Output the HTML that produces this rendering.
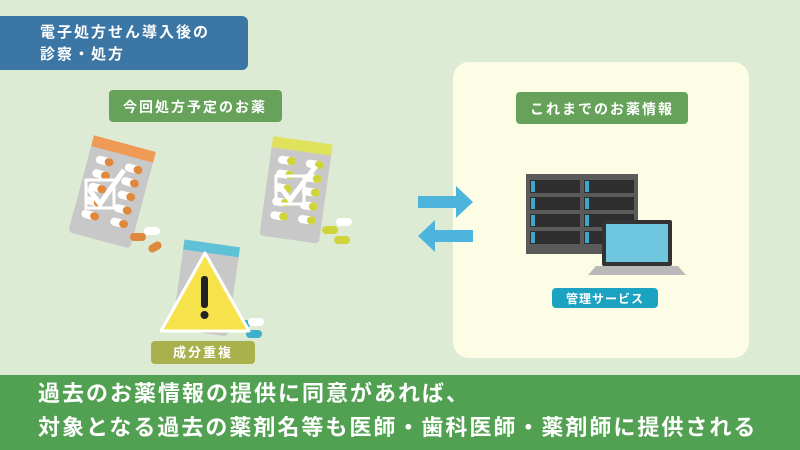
<!DOCTYPE html>
<html><head><meta charset="utf-8"><style>
body{margin:0;width:800px;height:450px;overflow:hidden;background:#ddebd5;font-family:"Liberation Sans","Noto Sans CJK JP",sans-serif}
</style></head><body>
<svg width="800" height="450" viewBox="0 0 800 450" xmlns="http://www.w3.org/2000/svg" style="position:absolute;left:0;top:0">
<rect width="800" height="450" fill="#ddebd5"/>
<rect x="-10" y="16" width="258" height="54" rx="6" fill="#3c76a5"/>
<text x="40" y="37" font-size="15" font-weight="bold" fill="#fff" letter-spacing="2">電子処方せん導入後の</text>
<text x="40" y="59" font-size="15" font-weight="bold" fill="#fff" letter-spacing="2">診察・処方</text>
<rect x="109" y="90" width="173" height="32" rx="4" fill="#66a25a"/>
<text x="195" y="112" font-size="14" font-weight="bold" fill="#fff" text-anchor="middle" letter-spacing="2">今回処方予定のお薬</text>
<rect x="453" y="62" width="296" height="296" rx="16" fill="#fdfde5"/>
<rect x="516" y="92" width="172" height="32" rx="4" fill="#66a25a"/>
<text x="602" y="114" font-size="14" font-weight="bold" fill="#fff" text-anchor="middle" letter-spacing="2">これまでのお薬情報</text>
<polygon points="418,196 456,196 456,186 473,202 456,218 456,208 418,208" fill="#4db5dc"/>
<polygon points="473,230 435,230 435,220 418,236 435,252 435,242 473,242" fill="#4db5dc"/>
<rect x="526" y="174" width="112" height="80" fill="#5a5a5a"/>
<g fill="#2e2e2e">
<rect x="530" y="180" width="50" height="13"/><rect x="584" y="180" width="50" height="13"/>
<rect x="530" y="197" width="50" height="13"/><rect x="584" y="197" width="50" height="13"/>
<rect x="530" y="214" width="50" height="13"/><rect x="584" y="214" width="50" height="13"/>
<rect x="530" y="231" width="50" height="13"/><rect x="584" y="231" width="50" height="13"/>
</g>
<g fill="#3fa8c8">
<rect x="531" y="181" width="4" height="11"/><rect x="585" y="181" width="4" height="11"/>
<rect x="531" y="198" width="4" height="11"/><rect x="585" y="198" width="4" height="11"/>
<rect x="531" y="215" width="4" height="11"/><rect x="585" y="215" width="4" height="11"/>
<rect x="531" y="232" width="4" height="11"/><rect x="585" y="232" width="4" height="11"/>
</g>
<rect x="602" y="220" width="70" height="46" rx="2" fill="#333"/>
<rect x="606" y="224" width="62" height="38" fill="#6ec6e0"/>
<polygon points="596,266 678,266 686,275 588,275" fill="#b9b9b9"/>
<rect x="552" y="288" width="106" height="20" rx="4" fill="#1da3c2"/>
<text x="605" y="303" font-size="12" font-weight="bold" fill="#fff" text-anchor="middle" letter-spacing="1">管理サービス</text>
<g transform="translate(112,192) rotate(15)">
<rect x="-32" y="-50" width="64" height="100" rx="4" fill="#c8c8c8"/>
<rect x="-32" y="-50" width="64" height="11" fill="#ef9a55"/>
<g fill="#fff">
<rect x="-24" y="-32" width="18" height="8" rx="4"/><rect x="6" y="-32" width="18" height="8" rx="4"/>
<rect x="-24" y="-18" width="18" height="8" rx="4"/><rect x="6" y="-18" width="18" height="8" rx="4"/>
<rect x="-24" y="-4" width="18" height="8" rx="4"/><rect x="6" y="-4" width="18" height="8" rx="4"/>
<rect x="-24" y="10" width="18" height="8" rx="4"/><rect x="6" y="10" width="18" height="8" rx="4"/>
<rect x="-24" y="24" width="18" height="8" rx="4"/><rect x="6" y="24" width="18" height="8" rx="4"/>
</g>
<g fill="#e0883e">
<rect x="-15" y="-32" width="9" height="8" rx="4"/><rect x="15" y="-32" width="9" height="8" rx="4"/>
<rect x="-15" y="-18" width="9" height="8" rx="4"/><rect x="15" y="-18" width="9" height="8" rx="4"/>
<rect x="-15" y="-4" width="9" height="8" rx="4"/><rect x="15" y="-4" width="9" height="8" rx="4"/>
<rect x="-15" y="10" width="9" height="8" rx="4"/><rect x="15" y="10" width="9" height="8" rx="4"/>
<rect x="-15" y="24" width="9" height="8" rx="4"/><rect x="15" y="24" width="9" height="8" rx="4"/>
</g>
</g>
<rect x="86" y="180" width="28" height="28" fill="none" stroke="#fff" stroke-width="3"/>
<polyline points="88,188 100,204 124,170" fill="none" stroke="#fff" stroke-width="5"/>
<g fill="#e0883e"><rect x="130" y="233" width="16" height="8" rx="4"/><rect x="148" y="243" width="14" height="8" rx="4" transform="rotate(-30 155 247)"/></g>
<rect x="144" y="227" width="16" height="8" rx="4" fill="#fff"/>
<g transform="translate(296,190) rotate(8)">
<rect x="-30" y="-50" width="60" height="100" rx="4" fill="#c8c8c8"/>
<rect x="-30" y="-50" width="60" height="11" fill="#dfe25a"/>
<g fill="#fff">
<rect x="-22" y="-32" width="18" height="8" rx="4"/><rect x="6" y="-32" width="18" height="8" rx="4"/>
<rect x="-22" y="-18" width="18" height="8" rx="4"/><rect x="6" y="-18" width="18" height="8" rx="4"/>
<rect x="-22" y="-4" width="18" height="8" rx="4"/><rect x="6" y="-4" width="18" height="8" rx="4"/>
<rect x="-22" y="10" width="18" height="8" rx="4"/><rect x="6" y="10" width="18" height="8" rx="4"/>
<rect x="-22" y="24" width="18" height="8" rx="4"/><rect x="6" y="24" width="18" height="8" rx="4"/>
</g>
<g fill="#cfd43a">
<rect x="-13" y="-32" width="9" height="8" rx="4"/><rect x="15" y="-32" width="9" height="8" rx="4"/>
<rect x="-13" y="-18" width="9" height="8" rx="4"/><rect x="15" y="-18" width="9" height="8" rx="4"/>
<rect x="-13" y="-4" width="9" height="8" rx="4"/><rect x="15" y="-4" width="9" height="8" rx="4"/>
<rect x="-13" y="10" width="9" height="8" rx="4"/><rect x="15" y="10" width="9" height="8" rx="4"/>
<rect x="-13" y="24" width="9" height="8" rx="4"/><rect x="15" y="24" width="9" height="8" rx="4"/>
</g>
</g>
<rect x="276" y="176" width="28" height="28" fill="none" stroke="#fff" stroke-width="3"/>
<polyline points="278,184 290,200 316,166" fill="none" stroke="#fff" stroke-width="5"/>
<g fill="#cfd43a"><rect x="322" y="226" width="16" height="8" rx="4"/><rect x="334" y="236" width="16" height="8" rx="4"/></g>
<rect x="336" y="218" width="16" height="8" rx="4" fill="#fff"/>
<g transform="translate(206,288) rotate(8)">
<rect x="-28" y="-45" width="56" height="90" rx="4" fill="#c8c8c8"/>
<rect x="-28" y="-45" width="56" height="10" fill="#5fc1d6"/>
</g>
<g fill="#3fb0cc"><rect x="232" y="320" width="18" height="8" rx="4"/><rect x="246" y="330" width="16" height="8" rx="4"/><rect x="248" y="318" width="16" height="8" rx="4" fill="#fff"/></g>
<polygon points="205,253 249,331 161,331" fill="#f6e24a" stroke="#fff" stroke-width="3" stroke-linejoin="round"/>
<rect x="201" y="276" width="7" height="32" rx="3" fill="#222"/>
<circle cx="204.5" cy="315" r="4" fill="#222"/>
<rect x="151" y="341" width="104" height="23" rx="4" fill="#a9b14c"/>
<text x="203" y="357" font-size="13" font-weight="bold" fill="#fff" text-anchor="middle" letter-spacing="2">成分重複</text>
<rect x="0" y="375" width="800" height="75" fill="#52a052"/>
<text x="38" y="401" font-size="22" font-weight="bold" fill="#fff" letter-spacing="2">過去のお薬情報の提供に同意があれば、</text>
<text x="38" y="435" font-size="22" font-weight="bold" fill="#fff" letter-spacing="2">対象となる過去の薬剤名等も医師・歯科医師・薬剤師に提供される</text>
</svg>
</body></html>
